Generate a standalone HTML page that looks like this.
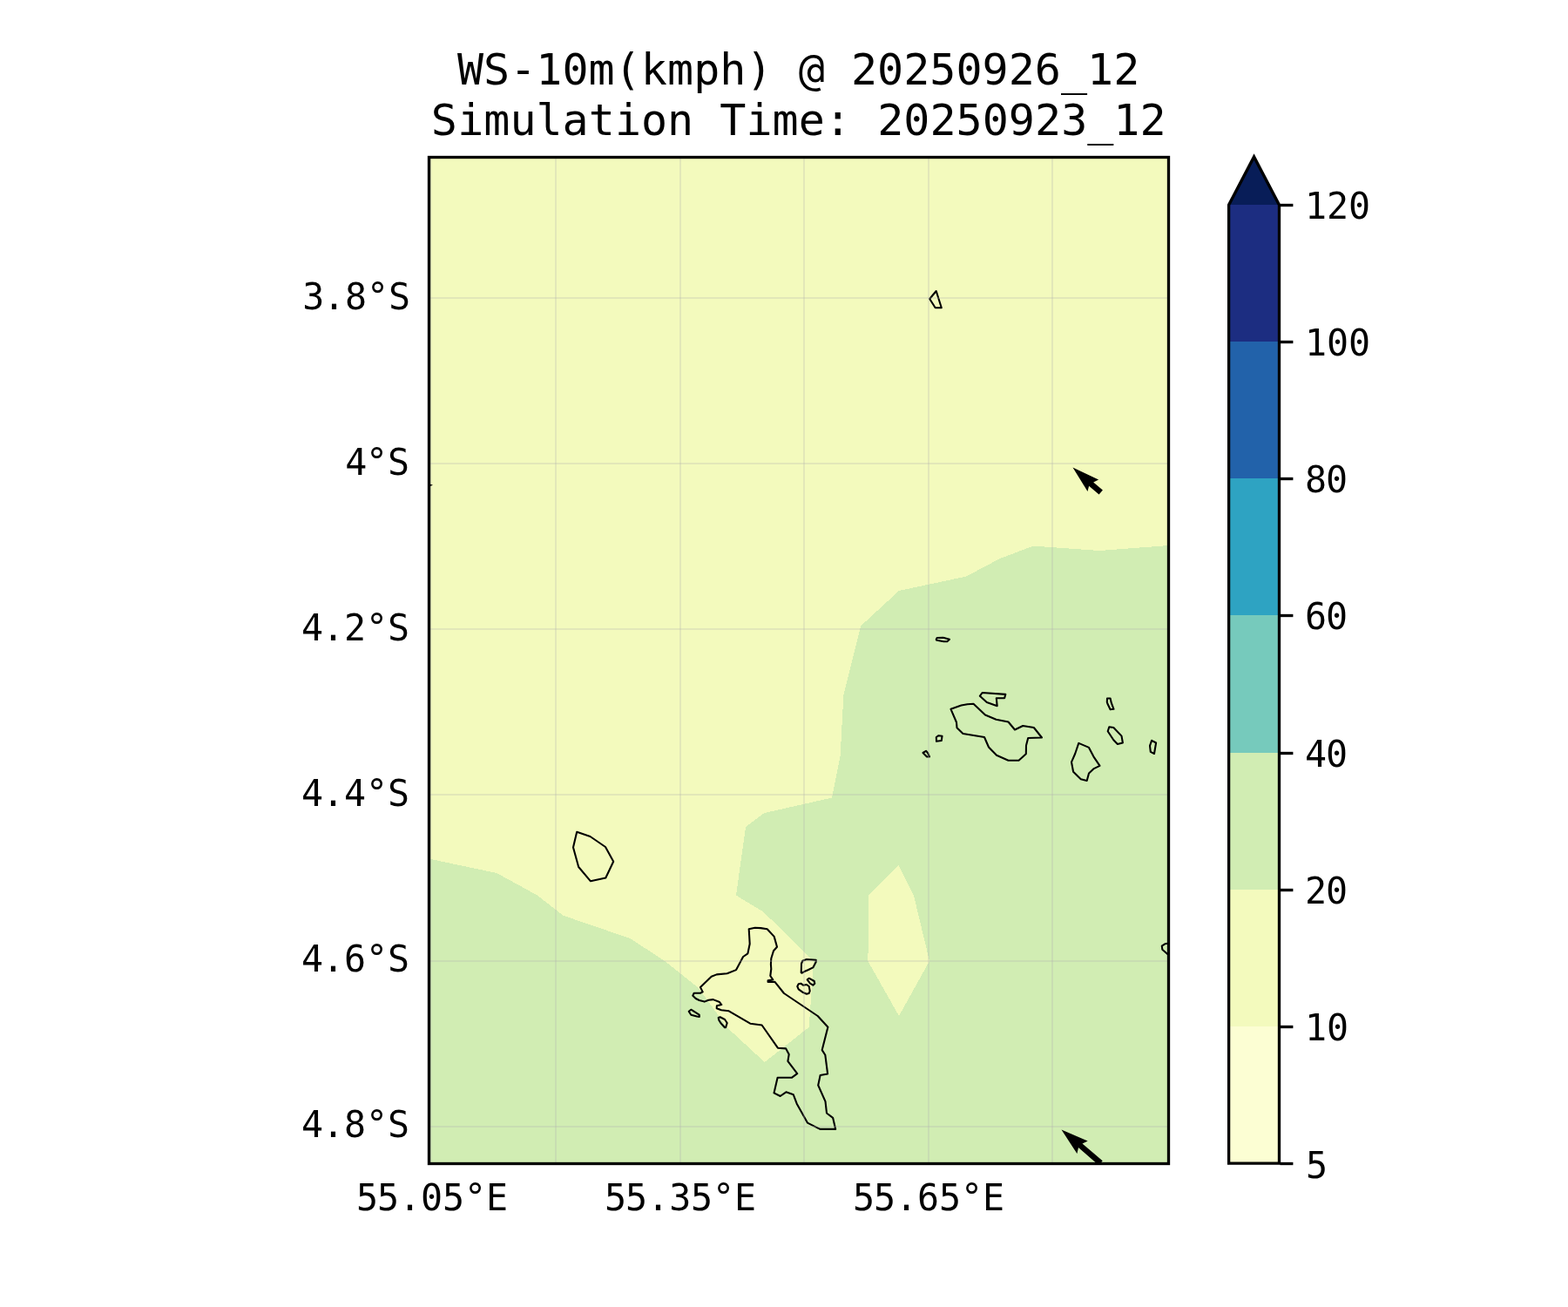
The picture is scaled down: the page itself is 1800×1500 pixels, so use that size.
<!DOCTYPE html>
<html lang="en"><head><meta charset="utf-8"><title>WS-10m(kmph) @ 20250926_12</title>
<style>
html,body{margin:0;padding:0;background:#fff;}
body{width:1800px;height:1500px;overflow:hidden;}
svg{display:block;}
text{font-family:"DejaVu Sans Mono","Liberation Mono",monospace;fill:#000;white-space:pre;}
</style></head><body>
<svg width="1800" height="1500" viewBox="0 0 1800 1500">
<rect width="1800" height="1500" fill="#ffffff"/>
<defs><clipPath id="ax"><rect x="492.50" y="180.50" width="849.00" height="1155.00"/></clipPath></defs>
<g clip-path="url(#ax)">
<rect x="492.50" y="180.50" width="849.00" height="1155.00" fill="#d1edb3"/>
<polygon points="492.50,180.50 1341.50,180.50 1341.50,626.00 1262.00,632.00 1186.00,626.60 1148.00,641.00 1109.00,661.60 1032.00,678.00 988.30,718.30 968.40,797.00 964.60,868.00 955.00,915.50 877.00,933.20 856.00,949.00 845.00,1027.60 876.50,1046.60 923.00,1092.50 934.00,1103.30 928.70,1178.80 877.80,1219.00 835.00,1179.50 802.00,1134.00 763.50,1103.20 723.40,1077.00 646.70,1050.80 616.80,1027.50 570.20,1002.00 492.50,985.60" fill="#f3fabd" shape-rendering="crispEdges"/>
<polygon points="1031.60,993.00 1049.00,1028.00 1067.00,1103.00 1032.00,1166.00 996.45,1103.20 997.00,1027.50" fill="#f3fabd" shape-rendering="crispEdges"/>
<g fill="none" stroke="#000" stroke-width="2.08" stroke-linejoin="round">
<polygon points="859.70,1066.30 866.70,1064.70 873.30,1065.10 880.70,1066.30 888.70,1074.90 892.00,1086.70 888.00,1091.30 885.30,1100.00 884.90,1106.70 885.30,1112.00 884.30,1120.00 887.30,1124.30 881.60,1125.30 881.60,1126.90 889.30,1126.70 900.00,1140.00 938.70,1166.00 950.40,1178.70 943.70,1205.10 947.30,1210.70 950.10,1232.40 941.60,1234.10 939.20,1245.50 947.50,1264.10 949.00,1277.50 956.10,1282.80 959.20,1295.90 941.40,1295.90 926.90,1288.60 914.70,1266.70 910.80,1256.30 902.40,1253.30 895.70,1258.00 888.50,1254.40 892.60,1236.80 908.80,1236.80 915.20,1232.20 904.40,1217.90 905.70,1210.10 902.20,1203.40 892.90,1202.70 874.60,1176.50 861.20,1174.70 836.70,1160.30 828.00,1159.30 822.70,1157.30 822.90,1154.30 828.30,1153.10 826.00,1150.00 818.70,1147.10 813.30,1147.70 808.70,1149.60 802.70,1148.00 798.70,1146.00 795.30,1142.70 796.70,1139.70 804.00,1139.70 806.70,1138.40 804.00,1133.10 816.70,1120.70 822.70,1118.40 834.70,1117.30 845.10,1113.10 853.10,1098.00 858.40,1094.40 860.70,1083.30"/>
<polygon points="920.00,1106.00 921.30,1102.70 926.00,1101.00 936.70,1101.70 936.70,1104.00 933.30,1110.40 928.00,1113.00 924.00,1114.70 920.70,1116.70 919.70,1116.30"/>
<polygon points="926.70,1124.30 928.70,1122.70 934.70,1126.00 935.30,1128.70 933.30,1130.70 930.00,1128.70"/>
<polygon points="915.30,1132.00 916.70,1129.30 919.30,1128.70 922.00,1130.70 926.00,1130.00 928.70,1132.00 929.70,1137.30 928.70,1140.00 926.00,1140.70 921.30,1138.70 916.70,1135.30"/>
<polygon points="790.70,1160.70 793.30,1158.70 802.70,1164.70 802.90,1166.90 800.00,1166.40 793.30,1164.70"/>
<polygon points="824.70,1168.00 826.70,1167.30 832.00,1170.00 834.70,1174.00 833.10,1179.30 832.00,1179.30 827.30,1174.00 825.30,1170.70"/>
<polygon points="662.20,954.70 677.50,960.00 695.00,972.00 704.20,988.70 695.30,1007.50 678.00,1011.30 664.20,995.00 658.00,972.50"/>
<polygon points="1091.50,813.80 1103.50,809.50 1110.50,808.20 1117.50,807.80 1131.00,820.50 1143.50,825.80 1157.50,828.50 1165.00,837.50 1174.20,833.00 1186.80,835.00 1196.00,846.50 1180.20,847.00 1178.00,855.50 1177.80,865.20 1169.50,872.80 1157.50,872.80 1144.00,866.80 1135.00,857.50 1130.00,846.00 1105.50,842.00 1098.50,835.20 1098.00,829.00"/>
<polygon points="1124.80,798.80 1127.60,795.00 1154.30,796.90 1153.10,801.20 1143.80,801.30 1144.70,810.20 1132.80,806.00"/>
<polygon points="1074.80,846.00 1077.50,844.20 1081.50,844.80 1080.80,850.00 1075.00,850.80"/>
<polygon points="1059.50,864.00 1063.00,861.80 1065.00,864.00 1067.00,868.50 1064.00,868.50"/>
<polygon points="1238.30,852.90 1250.00,857.90 1255.40,868.30 1262.50,878.90 1255.80,882.10 1250.00,887.50 1247.70,896.00 1240.80,894.20 1232.10,885.80 1230.00,874.60 1234.20,865.00"/>
<polygon points="1271.70,839.20 1273.30,834.20 1278.30,835.00 1287.50,844.60 1288.90,852.50 1282.90,854.00 1278.30,849.20"/>
<polygon points="1270.80,805.80 1271.00,801.50 1274.60,801.50 1275.80,806.70 1278.50,813.80 1274.60,814.30 1271.70,808.30"/>
<polygon points="1320.00,855.80 1322.10,849.80 1327.10,852.50 1325.00,865.00 1320.80,862.90"/>
<polygon points="1074.70,734.00 1075.70,732.00 1082.70,731.80 1090.00,733.70 1087.30,736.20 1083.30,736.20 1075.30,734.80"/>
<polygon points="1074.70,334.00 1080.80,353.30 1073.70,353.30 1067.20,343.00"/>
<polygon points="1345.00,1082.20 1340.30,1082.70 1337.30,1083.30 1333.80,1085.70 1334.30,1089.70 1340.30,1095.00 1345.00,1098.00"/>
</g>
<g fill="#b0b0b0" fill-opacity="0.25">
<rect x="493.5" y="180.5" width="2" height="1155.0"/>
<rect x="637.0" y="180.5" width="2" height="1155.0"/>
<rect x="780.0" y="180.5" width="2" height="1155.0"/>
<rect x="922.0" y="180.5" width="2" height="1155.0"/>
<rect x="1065.0" y="180.5" width="2" height="1155.0"/>
<rect x="1207.0" y="180.5" width="2" height="1155.0"/>
<rect x="492.5" y="341.0" width="849.0" height="2"/>
<rect x="492.5" y="531.0" width="849.0" height="2"/>
<rect x="492.5" y="721.0" width="849.0" height="2"/>
<rect x="492.5" y="911.0" width="849.0" height="2"/>
<rect x="492.5" y="1102.0" width="849.0" height="2"/>
<rect x="492.5" y="1292.0" width="849.0" height="2"/>
</g>
<polygon points="1231.50,536.40 1261.10,550.50 1255.20,553.50 1265.90,562.50 1261.60,567.60 1250.10,557.70 1248.50,564.10" fill="#000"/>
<polygon points="1218.50,1296.40 1248.70,1309.50 1242.50,1312.40 1265.70,1332.30 1261.40,1337.40 1238.00,1316.90 1236.40,1323.90" fill="#000"/>
<polygon points="492,554.9 497,556.65 492,558.4" fill="#000"/>
</g>
<rect x="492.50" y="180.50" width="849.00" height="1155.00" fill="none" stroke="#000" stroke-width="3.33"/>
<rect x="1410.60" y="1178.00" width="57.90" height="157.50" fill="#fcfed3"/>
<rect x="1410.60" y="1021.00" width="57.90" height="157.00" fill="#f3fabd"/>
<rect x="1410.60" y="864.00" width="57.90" height="157.00" fill="#d1edb3"/>
<rect x="1410.60" y="706.00" width="57.90" height="158.00" fill="#76cabc"/>
<rect x="1410.60" y="549.00" width="57.90" height="157.00" fill="#2ea3c2"/>
<rect x="1410.60" y="392.00" width="57.90" height="157.00" fill="#2262aa"/>
<rect x="1410.60" y="235.00" width="57.90" height="157.00" fill="#1c2d81"/>
<polygon points="1410.60,235.00 1439.55,179.90 1468.50,235.00" fill="#081d58"/>
<path d="M1410.60 1335.10 L1410.60 235.20 L1439.55 179.90 L1468.50 235.20 L1468.50 1335.10 Z" fill="none" stroke="#000" stroke-width="3.33" stroke-linejoin="miter" stroke-miterlimit="10"/>
<line x1="1469.50" y1="1335.50" x2="1484.40" y2="1335.50" stroke="#000" stroke-width="3.33"/>
<line x1="1469.50" y1="1178.50" x2="1484.40" y2="1178.50" stroke="#000" stroke-width="3.33"/>
<line x1="1469.50" y1="1021.50" x2="1484.40" y2="1021.50" stroke="#000" stroke-width="3.33"/>
<line x1="1469.50" y1="864.50" x2="1484.40" y2="864.50" stroke="#000" stroke-width="3.33"/>
<line x1="1469.50" y1="706.50" x2="1484.40" y2="706.50" stroke="#000" stroke-width="3.33"/>
<line x1="1469.50" y1="549.50" x2="1484.40" y2="549.50" stroke="#000" stroke-width="3.33"/>
<line x1="1469.50" y1="392.50" x2="1484.40" y2="392.50" stroke="#000" stroke-width="3.33"/>
<line x1="1469.50" y1="235.50" x2="1484.40" y2="235.50" stroke="#000" stroke-width="3.33"/>
<text font-size="50px" x="525.01 555.01 585.43 615.37 645.53 675.49 705.60 735.81 765.91 796.20 826.28 856.41 886.53 916.64 946.87 977.09 1007.02 1037.33 1067.26 1097.40 1127.54 1157.83 1187.75 1217.94 1247.97 1278.33" y="97">WS-10m(kmph) @ 20250926_12</text>
<text font-size="50px" x="494.87 525.17 555.16 585.43 615.48 645.48 675.79 705.97 736.11 766.10 796.22 826.34 856.55 886.49 916.75 946.79 977.06 1007.33 1037.27 1067.58 1097.50 1127.65 1157.80 1188.09 1218.14 1248.18 1278.23 1308.58" y="155">Simulation Time: 20250923_12</text>
<text font-size="41.67px" transform="translate(0,355) scale(1,1.02)" x="347.20 371.02 395.96 420.89 446.08" y="0">3.8°S</text>
<text font-size="41.67px" transform="translate(0,545) scale(1,1.02)" x="396.13 419.89 445.08" y="0">4°S</text>
<text font-size="41.67px" transform="translate(0,735) scale(1,1.02)" x="346.13 370.02 395.12 419.89 445.08" y="0">4.2°S</text>
<text font-size="41.67px" transform="translate(0,925) scale(1,1.02)" x="346.13 370.02 395.13 419.89 445.08" y="0">4.4°S</text>
<text font-size="41.67px" transform="translate(0,1115) scale(1,1.02)" x="346.13 370.02 395.07 419.89 445.08" y="0">4.6°S</text>
<text font-size="41.67px" transform="translate(0,1305) scale(1,1.02)" x="346.13 370.02 394.96 419.89 445.08" y="0">4.8°S</text>
<text font-size="41.67px" transform="translate(0,1389) scale(1,1.02)" x="409.05 433.05 458.02 483.11 508.05 532.89 557.95" y="0">55.05°E</text>
<text font-size="41.67px" transform="translate(0,1389) scale(1,1.02)" x="694.05 718.05 743.02 768.20 793.05 817.89 842.95" y="0">55.35°E</text>
<text font-size="41.67px" transform="translate(0,1389) scale(1,1.02)" x="979.05 1003.05 1028.02 1053.07 1078.05 1102.89 1127.96" y="0">55.65°E</text>
<text font-size="41.67px" transform="translate(0,1352) scale(1,1.02)" x="1499.05" y="0">5</text>
<text font-size="41.67px" transform="translate(0,1194) scale(1,1.02)" x="1498.10 1523.11" y="0">10</text>
<text font-size="41.67px" transform="translate(0,1037) scale(1,1.02)" x="1498.12 1522.11" y="0">20</text>
<text font-size="41.67px" transform="translate(0,880) scale(1,1.02)" x="1498.13 1522.11" y="0">40</text>
<text font-size="41.67px" transform="translate(0,722) scale(1,1.02)" x="1498.07 1522.11" y="0">60</text>
<text font-size="41.67px" transform="translate(0,565) scale(1,1.02)" x="1497.96 1522.11" y="0">80</text>
<text font-size="41.67px" transform="translate(0,408) scale(1,1.02)" x="1498.10 1523.11 1548.11" y="0">100</text>
<text font-size="41.67px" transform="translate(0,251) scale(1,1.02)" x="1498.10 1523.12 1548.11" y="0">120</text>
</svg>
</body></html>
